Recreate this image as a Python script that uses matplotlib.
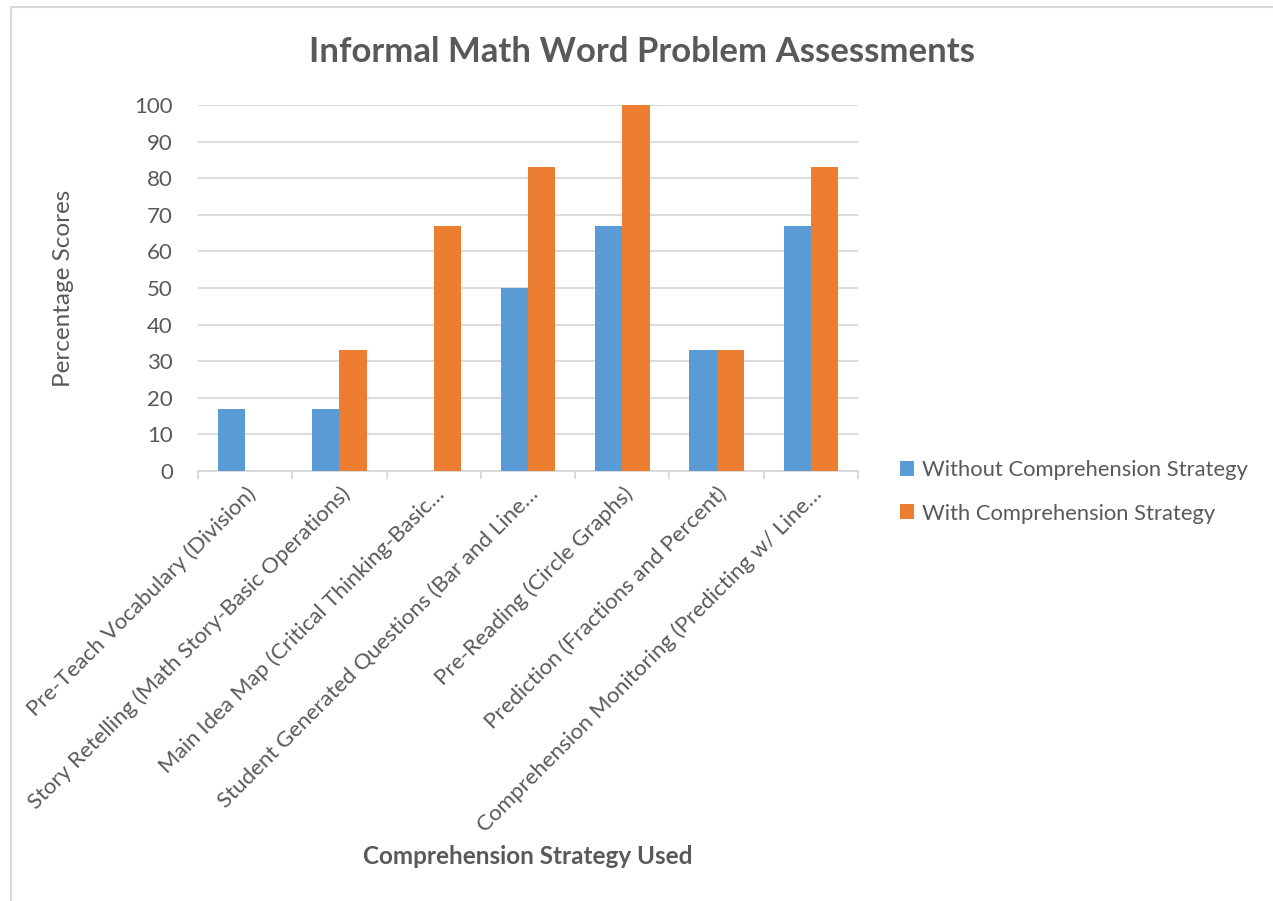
import numpy as np
import matplotlib.pyplot as plt
from matplotlib.lines import Line2D

plt.rcParams['font.family'] = ['Lato', 'DejaVu Sans']

# data
strategies = ['Pre-Teach Vocabulary (Division)',
              'Story Retelling (Math Story-Basic Operations)',
              'Main Idea Map (Critical Thinking-Basic\u2026',
              'Student Generated Questions (Bar and Line\u2026',
              'Pre-Reading (Circle Graphs)',
              'Prediction (Fractions and Percent)',
              'Comprehension Monitoring (Predicting w/ Line\u2026']
without_strategy = [17, 17, 0, 50, 67, 33, 67]
with_strategy = [0, 33, 67, 83, 100, 33, 83]
series_names = ['Without Comprehension Strategy', 'With Comprehension Strategy']
yticks = list(range(0, 101, 10))

blue = '#5B9BD5'
orange = '#ED7D31'
txt = '#595959'
grid = '#D9D9D9'

W, H = 1273, 901
fig = plt.figure(figsize=(W / 100, H / 100), dpi=100)
ax = fig.add_axes([198 / W, 1 - 471 / H, 660 / W, 366 / H])

x = np.arange(len(strategies))
bw = 0.29
ax.bar(x - bw / 2, without_strategy, bw, color=blue, label=series_names[0], zorder=3)
ax.bar(x + bw / 2, with_strategy, bw, color=orange, label=series_names[1], zorder=3)

ax.set_xlim(-0.5, len(strategies) - 0.5)
ax.set_ylim(0, 100)
ax.set_yticks(yticks)
ax.yaxis.grid(True, color=grid, lw=1.3, zorder=0)
ax.tick_params(axis='y', length=0, labelsize=16, labelcolor=txt, pad=18)
ax.set_xticks(x)
ax.set_xticklabels(strategies, rotation=45, ha='right', rotation_mode='anchor',
                   fontsize=16, color=txt)
ax.tick_params(axis='x', length=0, pad=9)
# category boundary ticks
ax.set_xticks(np.arange(-0.5, len(strategies)), minor=True)
ax.tick_params(axis='x', which='minor', length=6, color=grid, width=1.3)
for s in ['top', 'right', 'left']:
    ax.spines[s].set_visible(False)
ax.spines['bottom'].set_color(grid)
ax.spines['bottom'].set_linewidth(1.3)

fig.text(642 / W, 1 - 52 / H, 'Informal Math Word Problem Assessments', ha='center', va='center',
         fontsize=25, fontweight='bold', color=txt)
fig.text(528 / W, 1 - 857 / H, 'Comprehension Strategy Used', ha='center', va='center',
         fontsize=17.5, fontweight='bold', color=txt)
fig.text(63 / W, 1 - 288 / H, 'Percentage Scores', ha='center', va='center',
         rotation=90, fontsize=17.5, color=txt)

leg = fig.legend(loc='center left', bbox_to_anchor=(880 / W, 1 - 492 / H), frameon=False,
                 fontsize=15.8, labelcolor=txt, handlelength=0.65, handleheight=0.65,
                 handletextpad=0.35, labelspacing=1.05)

# chart border (left and top edge visible)
fig.add_artist(Line2D([11 / W, 11 / W], [0, 1 - 7 / H], transform=fig.transFigure,
                      color=grid, lw=1.5))
fig.add_artist(Line2D([11 / W, 1], [1 - 7 / H, 1 - 7 / H], transform=fig.transFigure,
                      color=grid, lw=1.5))

fig.savefig('out.png', dpi=100)
